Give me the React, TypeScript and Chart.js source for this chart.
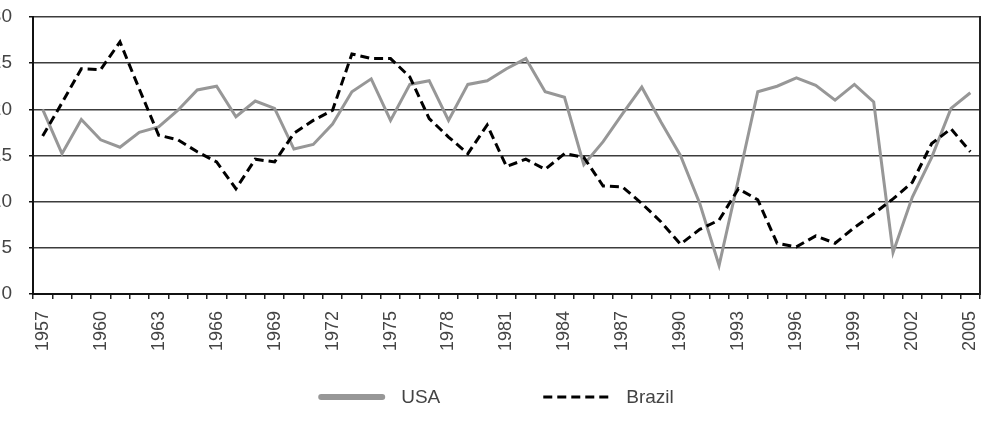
import React, { useEffect, useRef } from "react";
import { Chart, registerables } from "chart.js";

Chart.register(...registerables);

// Years on the category axis
const years = [
  "1957", "1958", "1959", "1960", "1961", "1962", "1963", "1964", "1965", "1966",
  "1967", "1968", "1969", "1970", "1971", "1972", "1973", "1974", "1975", "1976",
  "1977", "1978", "1979", "1980", "1981", "1982", "1983", "1984", "1985", "1986",
  "1987", "1988", "1989", "1990", "1991", "1992", "1993", "1994", "1995", "1996",
  "1997", "1998", "1999", "2000", "2001", "2002", "2003", "2004", "2005",
];

const usaValues = [
  20.0, 15.2, 18.9, 16.7, 15.9, 17.5, 18.1, 19.9, 22.1, 22.5,
  19.2, 20.9, 20.1, 15.7, 16.2, 18.4, 21.9, 23.3, 18.8, 22.7,
  23.1, 18.8, 22.7, 23.1, 24.4, 25.5, 21.9, 21.3, 14.0, 16.5,
  19.5, 22.4, 18.6, 15.0, 9.8, 3.1, 12.4, 21.9, 22.5, 23.4,
  22.6, 21.0, 22.7, 20.8, 4.5, 10.5, 14.8, 20.1, 21.8,
];

const brazilValues = [
  17.1, 20.7, 24.4, 24.3, 27.3, 22.2, 17.2, 16.7, 15.4, 14.3,
  11.4, 14.6, 14.3, 17.4, 18.8, 19.9, 26.0, 25.5, 25.5, 23.5,
  19.0, 17.0, 15.2, 18.3, 13.8, 14.6, 13.5, 15.2, 14.8, 11.7,
  11.6, 9.8, 7.8, 5.4, 7.0, 8.0, 11.4, 10.2, 5.5, 5.1,
  6.3, 5.5, 7.2, 8.7, 10.3, 12.1, 16.3, 17.9, 15.4,
];

const seriesNames = ["USA", "Brazil"];

const yMin = 0;
const yMax = 30;
const yStep = 5;
const labelEvery = 3;

const FONT = "'Liberation Sans', Arial, sans-serif";
const TEXT_COLOR = "#444444";
const SHIFT_LEFT = 9; // canvas starts left of the window edge

// Draws the legend row under the axis: a line sample followed by its label.
const legendRow = {
  id: "legendRow",
  afterDraw(chart: any, _args: any, opts: any) {
    const ctx = chart.ctx as CanvasRenderingContext2D;
    const items = chart.data.datasets.map((ds: any) => ({
      label: ds.label as string,
      color: ds.borderColor as string,
      dash: (ds.borderDash || []) as number[],
      width: ds.legendLineWidth || ds.borderWidth,
      cap: ds.legendLineCap || "butt",
    }));
    ctx.save();
    ctx.font = `${opts.fontSize}px ${FONT}`;
    const widths = items.map((it: any) => ctx.measureText(it.label).width);
    let total = 0;
    items.forEach((_: any, i: number) => {
      total += opts.sample + opts.textGap + widths[i];
      if (i < items.length - 1) total += opts.itemGap;
    });
    let x = opts.centerX + SHIFT_LEFT - total / 2;
    const y = opts.y;
    items.forEach((it: any, i: number) => {
      ctx.beginPath();
      ctx.setLineDash(it.dash);
      ctx.lineWidth = it.width;
      ctx.lineCap = it.cap;
      ctx.strokeStyle = it.color;
      const inset = it.cap === "round" ? it.width / 2 : 0;
      ctx.moveTo(x + inset, y);
      ctx.lineTo(x + opts.sample - inset, y);
      ctx.stroke();
      ctx.setLineDash([]);
      x += opts.sample + opts.textGap;
      ctx.fillStyle = TEXT_COLOR;
      ctx.textBaseline = "middle";
      ctx.textAlign = "left";
      ctx.fillText(it.label, x, y + 1);
      x += widths[i] + opts.itemGap;
    });
    ctx.restore();
  },
};

export default function App() {
  const canvasRef = useRef<HTMLCanvasElement | null>(null);

  useEffect(() => {
    const canvas = canvasRef.current;
    if (!canvas) return;
    const chart = new Chart(canvas, {
      type: "line",
      data: {
        labels: years,
        datasets: [
          {
            label: seriesNames[0],
            data: usaValues,
            borderColor: "#979797",
            borderWidth: 3,
            pointRadius: 0,
            tension: 0,
            order: 1,
            legendLineWidth: 6,
            legendLineCap: "round",
          } as any,
          {
            label: seriesNames[1],
            data: brazilValues,
            borderColor: "#000000",
            borderWidth: 3,
            borderDash: [9, 5],
            pointRadius: 0,
            tension: 0,
            order: 0,
            legendLineWidth: 3,
          } as any,
        ],
      },
      options: {
        animation: false,
        responsive: true,
        maintainAspectRatio: false,
        layout: { padding: { top: 17, left: 0, right: 6, bottom: 72 } },
        plugins: {
          legend: { display: false },
          tooltip: { enabled: false },
          legendRow: {
            centerX: 496,
            y: 397,
            fontSize: 19,
            sample: 67,
            textGap: 16,
            itemGap: 103,
          },
        } as any,
        scales: {
          x: {
            type: "category",
            offset: true,
            ticks: {
              autoSkip: false,
              maxRotation: 90,
              minRotation: 90,
              padding: 12,
              color: TEXT_COLOR,
              font: { family: FONT, size: 18 },
              callback: (_v: any, i: number) => (i % labelEvery === 0 ? years[i] : ""),
            },
            grid: {
              offset: true,
              drawOnChartArea: false,
              drawTicks: true,
              tickLength: 5,
              color: "#222222",
              lineWidth: 1.5,
            },
            border: { display: true, color: "#111111", width: 2 },
            afterFit: (s: any) => {
              s.height = 60;
            },
          },
          y: {
            min: yMin,
            max: yMax,
            ticks: {
              stepSize: yStep,
              color: TEXT_COLOR,
              font: { family: FONT, size: 19 },
              padding: 17,
            },
            grid: {
              color: "#3c3c3c",
              lineWidth: 1.5,
              drawTicks: true,
              tickLength: 4,
              tickColor: "#111111",
            },
            border: { display: true, color: "#111111", width: 2 },
            afterFit: (s: any) => {
              s.width = 33 + SHIFT_LEFT;
              s.paddingTop = 0;
              s.paddingBottom = 0;
            },
          },
          y2: {
            position: "right",
            min: yMin,
            max: yMax,
            ticks: { display: false },
            grid: { drawOnChartArea: false, drawTicks: false },
            border: { display: true, color: "#222222", width: 2 },
            afterFit: (s: any) => {
              s.width = 0;
            },
          },
        },
      },
      plugins: [legendRow],
    });
    return () => chart.destroy();
  }, []);

  return (
    <div
      style={{
        position: "fixed",
        left: -SHIFT_LEFT,
        top: 0,
        width: 1004 + SHIFT_LEFT,
        height: 426,
        background: "#ffffff",
      }}
    >
      <canvas ref={canvasRef} />
    </div>
  );
}
